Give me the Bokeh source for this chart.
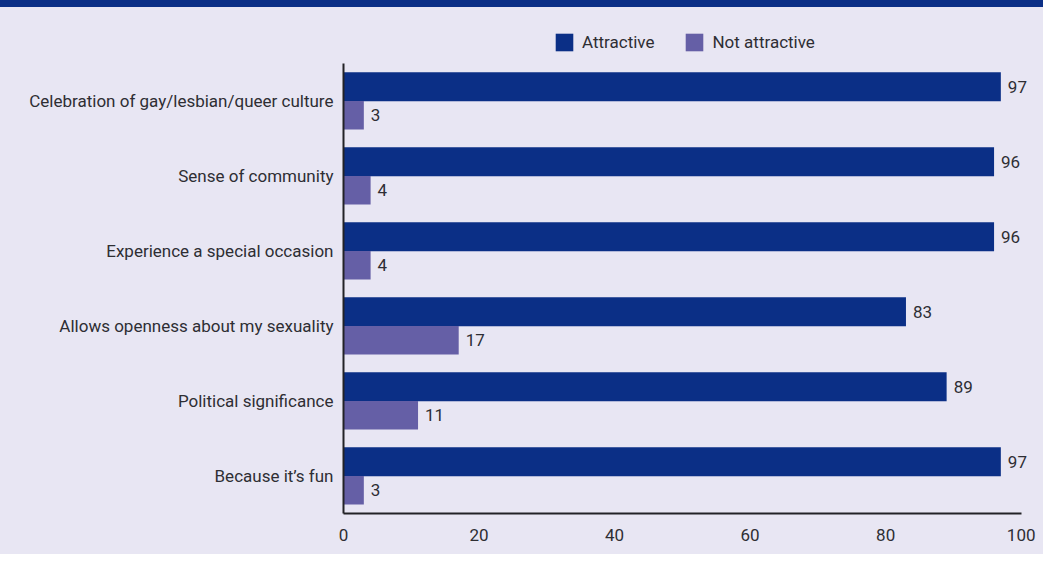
from bokeh.plotting import figure
from bokeh.models import (ColumnDataSource, Range1d, FixedTicker, Legend, LegendItem, Div)
from bokeh.layouts import column
from bokeh.core.properties import value
from bokeh.embed import file_html
from bokeh.resources import INLINE

categories = ["Celebration of gay/lesbian/queer culture", "Sense of community",
              "Experience a special occasion", "Allows openness about my sexuality",
              "Political significance", "Because it\u2019s fun"]
attractive = [97, 96, 96, 83, 89, 97]
not_attractive = [3, 4, 4, 17, 11, 3]
series_names = ["Attractive", "Not attractive"]
x_ticks = [0, 20, 40, 60, 80, 100]

NAVY = "#0b2f86"
PURPLE = "#655fa6"
BG = "#e8e6f3"
TXT = "#2e2e33"
FONT = "Roboto"
FS = "17px"

n = len(categories)
row_pos = [n - i - 0.5 for i in range(n)]   # category slots, top to bottom
OFF = 0.19

src = ColumnDataSource(dict(
    cat=categories,
    y_att=[r + OFF for r in row_pos],
    y_nat=[r - OFF for r in row_pos],
    att=attractive,
    nat=not_attractive,
    att_lbl=[str(v) for v in attractive],
    nat_lbl=[str(v) for v in not_attractive],
))

band = Div(text="", width=1043, height=7, margin=(0, 0, 0, 0),
           styles={"background-color": NAVY})

p = figure(width=1043, height=547, output_backend="svg", toolbar_location=None,
           y_range=Range1d(0, n + 0.6), x_range=Range1d(0, 103),
           min_border_left=343, min_border_right=2, min_border_top=11, min_border_bottom=41)
p.styles = {"background-color": BG}
p.background_fill_color = None
p.border_fill_color = None
p.outline_line_color = None
p.grid.visible = False

r1 = p.hbar(y="y_att", left=0, right="att", height=0.385,
            source=src, fill_color=NAVY, line_color=None)
r2 = p.hbar(y="y_nat", left=0, right="nat", height=0.38,
            source=src, fill_color=PURPLE, line_color=None)

p.text(x="att", y="y_att", text="att_lbl", source=src,
       x_offset=7, text_baseline="middle", text_align="left",
       text_font=value(FONT), text_font_size=value(FS), text_color=TXT)
p.text(x="nat", y="y_nat", text="nat_lbl", source=src,
       x_offset=7, text_baseline="middle", text_align="left",
       text_font=value(FONT), text_font_size=value(FS), text_color=TXT)

for ax in (p.xaxis[0], p.yaxis[0]):
    ax.axis_line_color = "#222226"
    ax.axis_line_width = 2
    ax.major_tick_line_color = None
    ax.minor_tick_line_color = None
    ax.major_tick_out = 0
    ax.major_tick_in = 0
    ax.major_label_text_font = FONT
    ax.major_label_text_font_size = FS
    ax.major_label_text_color = TXT

p.xaxis.ticker = FixedTicker(ticks=x_ticks)
p.xaxis.bounds = (0, 100)
p.xaxis.major_label_standoff = 15

p.yaxis.ticker = FixedTicker(ticks=row_pos)
p.yaxis.major_label_overrides = {r: c for r, c in zip(row_pos, categories)}
p.yaxis.bounds = (0, n)
p.yaxis.major_label_standoff = 10

legend = Legend(items=[LegendItem(label=series_names[0], renderers=[r1]),
                       LegendItem(label=series_names[1], renderers=[r2])],
                orientation="horizontal", location=(210, 460),
                glyph_width=22, glyph_height=22, label_height=22,
                label_standoff=7, spacing=29, padding=0, margin=0,
                border_line_color=None, background_fill_alpha=0,
                label_text_font=FONT, label_text_font_size=FS, label_text_color=TXT)
p.add_layout(legend, "center")

layout = column(band, p, spacing=0)
open("out.html", "w").write(file_html(layout, INLINE))
